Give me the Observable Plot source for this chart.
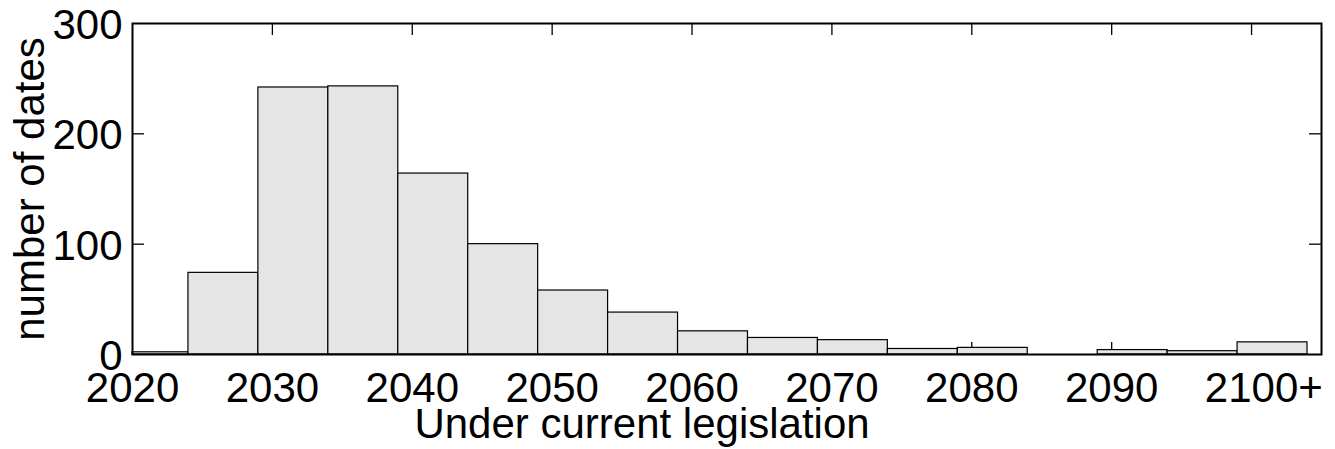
<!DOCTYPE html>
<html><head><meta charset="utf-8">
<script src="https://cdn.jsdelivr.net/npm/d3@7"></script>
<script src="https://cdn.jsdelivr.net/npm/@observablehq/plot@0.6"></script>
<style>
html,body{margin:0;padding:0;background:#fff;overflow:hidden;}
</style></head><body><div id="chart"></div>
<script>
const binStart = [2020, 2024, 2029, 2034, 2039, 2044, 2049, 2054, 2059, 2064, 2069, 2074, 2079, 2084, 2089, 2094, 2099];
const binEnd   = [2024, 2029, 2034, 2039, 2044, 2049, 2054, 2059, 2064, 2069, 2074, 2079, 2084, 2089, 2094, 2099, 2104];
const counts   = [2, 74, 242, 243, 164, 100, 58, 38, 21, 15, 13, 5, 6, 0, 4, 3, 11];
const xTickValues = [2020, 2030, 2040, 2050, 2060, 2070, 2080, 2090, 2100];
const xTickLabels = ["2020", "2030", "2040", "2050", "2060", "2070", "2080", "2090", "2100+"];
const yTickValues = [0, 100, 200, 300];
const xLabel = "Under current legislation";
const yLabel = "number of dates";
const nextPanelTickLabel = ["300"];

const bins = counts.map((c, i) => ({x1: binStart[i], x2: binEnd[i], count: c}));
const font = "'Liberation Sans', Arial, Helvetica, sans-serif";
const innerTicks = xTickValues.slice(1);
const innerYTicks = yTickValues.slice(1, -1);

const plot = Plot.plot({
  width: 1335, height: 449,
  marginLeft: 132, marginRight: 14, marginTop: 23, marginBottom: 95,
  style: {fontFamily: font, fontSize: "42px", background: "white", color: "black"},
  x: {domain: [2020, 2105], axis: null},
  y: {domain: [0, 300], axis: null},
  marks: [
    Plot.ruleX(innerTicks, {x: d => d, stroke: "black", strokeWidth: 1.3, insetBottom: 319}),
    Plot.ruleX(innerTicks, {x: d => d, stroke: "black", strokeWidth: 1.3, insetTop: 319}),
    Plot.ruleY(innerYTicks, {y: d => d, stroke: "black", strokeWidth: 1.3, insetRight: 1177}),
    Plot.ruleY(innerYTicks, {y: d => d, stroke: "black", strokeWidth: 1.3, insetLeft: 1177}),
    Plot.rect(bins, {x1: "x1", x2: "x2", y1: 0, y2: "count", fill: "#e5e5e5", stroke: "black", strokeWidth: 1.2}),
    Plot.frame({stroke: "black", strokeWidth: 2}),
    Plot.text(xTickValues, {x: d => d, text: (d, i) => xTickLabels[i], frameAnchor: "bottom", textAnchor: "start", lineAnchor: "top", dx: -46.7, dy: 18, fontSize: 42, fill: "black"}),
    Plot.text(yTickValues, {y: d => d, text: d => String(d), frameAnchor: "left", textAnchor: "end", lineAnchor: "middle", dx: -10, dy: 2, fontSize: 42, fill: "black"}),
    Plot.text([xLabel], {text: d => d, frameAnchor: "bottom", textAnchor: "middle", lineAnchor: "middle", dx: -85, dy: 70, fontSize: 42, fill: "black"}),
    Plot.text([yLabel], {text: d => d, frameAnchor: "left", textAnchor: "middle", lineAnchor: "middle", rotate: -90, dx: -102, fontSize: 42, fill: "black"}),
    Plot.text(nextPanelTickLabel, {text: d => d, frameAnchor: "bottom-left", textAnchor: "end", lineAnchor: "middle", dx: -10, dy: 110, fontSize: 42, fill: "black"})
  ]
});
document.getElementById("chart").appendChild(plot);
</script></body></html>
